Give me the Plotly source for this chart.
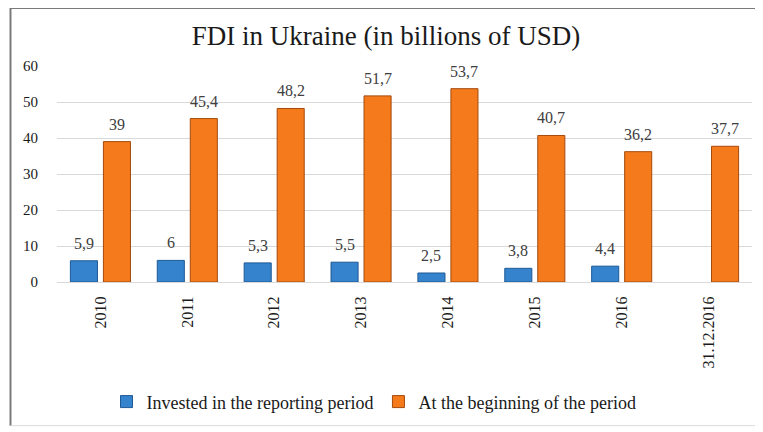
import plotly.graph_objects as go

categories = ["2010", "2011", "2012", "2013", "2014", "2015", "2016", "31.12.2016"]
invested = [5.9, 6, 5.3, 5.5, 2.5, 3.8, 4.4, None]
beginning = [39, 45.4, 48.2, 51.7, 53.7, 40.7, 36.2, 37.7]
y_ticks = [0, 10, 20, 30, 40, 50, 60]

def fmt(v):
    return ("%g" % v).replace(".", ",")

SERIF = "Liberation Serif"

# page body has an 8px margin: figure occupies reference pixels 8..763, 8..432
OFF = 8
W, H = 763 - OFF, 432 - OFF
PL, PR, PT, PB = 57, 752, 66, 284          # plot area in reference pixels
L, R, T, B = PL - OFF, 763 - PR, PT - OFF, 432 - PB
pw, ph = W - L - R, H - T - B

fig = go.Figure()
fig.add_trace(go.Bar(
    x=categories, y=invested, name="Invested in the reporting period",
    marker=dict(color="#3483cc", line=dict(color="#1f5a95", width=1)),
))
fig.add_trace(go.Bar(
    x=categories, y=beginning, name="At the beginning of the period",
    marker=dict(color="#f47a1c", line=dict(color="#a44a0c", width=1)),
))

lab_font = dict(family=SERIF, size=16, color="#404040")
ann = []
for i, v in enumerate(invested):
    if v is not None:
        ann.append(dict(x=i, y=v, text=fmt(v), xshift=-16.5, yshift=7, yanchor="bottom",
                        showarrow=False, font=lab_font))
for i, v in enumerate(beginning):
    ann.append(dict(x=i, y=v, text=fmt(v), xshift=16.5, yshift=7, yanchor="bottom",
                    showarrow=False, font=lab_font))

def px2x(p):
    return (p - PL) / pw

def py2y(p):
    return (PB - p) / ph

fig.update_layout(
    width=W, height=H,
    margin=dict(l=L, r=R, t=T, b=B),
    paper_bgcolor="white", plot_bgcolor="white",
    font=dict(family=SERIF, color="#1a1a1a"),
    barmode="group", bargap=0.24, bargroupgap=0.18,
    title=dict(text="FDI in Ukraine (in billions of USD)", x=px2x(386), xref="paper", xanchor="center",
               y=1 - (36 - OFF) / H, yanchor="middle",
               font=dict(family=SERIF, size=27, color="#1a1a1a")),
    annotations=ann,
    showlegend=True,
    legend=dict(orientation="h", x=px2x(374), xanchor="center", y=py2y(405), yanchor="middle",
                font=dict(family=SERIF, size=18, color="#1a1a1a"),
                itemwidth=30, traceorder="normal"),
    xaxis=dict(type="category", tickangle=-90, showgrid=False, showline=True,
               linecolor="#d9d9d9", linewidth=1, ticks="", ticklabelstandoff=7,
               tickfont=dict(family=SERIF, size=16, color="#1a1a1a")),
    yaxis=dict(range=[0, 60], tickvals=y_ticks, showgrid=True, gridcolor="#d9d9d9",
               zeroline=False, showline=False, ticks="", ticklabelstandoff=18,
               tickfont=dict(family=SERIF, size=15, color="#1a1a1a")),
    shapes=[
        dict(type="line", xref="paper", yref="paper", x0=px2x(10.5), x1=px2x(10.5),
             y0=py2y(429), y1=py2y(7.5), line=dict(color="#7a7a7a", width=2)),
        dict(type="line", xref="paper", yref="paper", x0=px2x(10.5), x1=px2x(763),
             y0=py2y(7.5), y1=py2y(7.5), line=dict(color="#7a7a7a", width=2)),
        dict(type="line", xref="paper", yref="paper", x0=px2x(10.5), x1=px2x(763),
             y0=py2y(429), y1=py2y(429), line=dict(color="#d9d9d9", width=1)),
    ],
)

fig.write_html("out.html")
